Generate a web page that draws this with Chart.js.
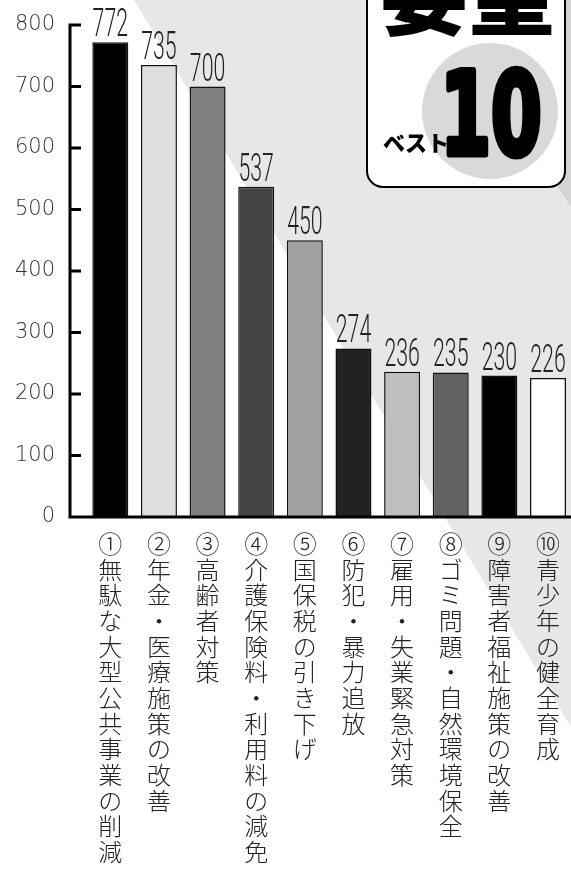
<!DOCTYPE html>
<html lang="ja">
<head>
<meta charset="utf-8">
<script src="https://cdn.jsdelivr.net/npm/chart.js@4"></script>
<style>
  html, body { margin: 0; padding: 0; background: #fff; overflow: hidden; }
  #wrap { width: 574px; height: 875px; }
</style>
</head>
<body>
<div id="wrap"><canvas id="chart"></canvas></div>
<script>
const categories = [
  "①無駄な大型公共事業の削減",
  "②年金・医療施策の改善",
  "③高齢者対策",
  "④介護保険料・利用料の減免",
  "⑤国保税の引き下げ",
  "⑥防犯・暴力追放",
  "⑦雇用・失業緊急対策",
  "⑧ゴミ問題・自然環境保全",
  "⑨障害者福祉施策の改善",
  "⑩青少年の健全育成"
];
const counts = [772, 735, 700, 537, 450, 274, 236, 235, 230, 226];
const barColors = ["#000000", "#dedede", "#808080", "#444444", "#a0a0a0",
                   "#222222", "#bebebe", "#626262", "#000000", "#ffffff"];
const badgeTitle = "要望";
const badgeSub = "ベスト";
const badgeNum = "10";
const yMax = 800;

// background stripe + the "要望 ベスト10" badge
const backdrop = {
  id: "backdrop",
  beforeDraw(chart) {
    const ctx = chart.ctx, w = chart.width;
    ctx.save();
    ctx.fillStyle = "#fff";
    ctx.fillRect(0, 0, w, chart.height);

    ctx.fillStyle = "#e6e7e9";
    ctx.beginPath();
    ctx.moveTo(134, 0);
    ctx.lineTo(w, 0);
    ctx.lineTo(w, (w - 134) / 0.6014);
    ctx.closePath();
    ctx.fill();

    ctx.fillStyle = "#d3d4d6";
    ctx.beginPath();
    ctx.moveTo(433, 0);
    ctx.lineTo(w, 0);
    ctx.lineTo(w, (w - 433) / 0.667);
    ctx.closePath();
    ctx.fill();

    // badge box
    const bx = 367, by = -30, bw = 198, bh = 217, r = 16;
    ctx.beginPath();
    ctx.moveTo(bx + r, by);
    ctx.arcTo(bx + bw, by, bx + bw, by + bh, r);
    ctx.arcTo(bx + bw, by + bh, bx, by + bh, r);
    ctx.arcTo(bx, by + bh, bx, by, r);
    ctx.arcTo(bx, by, bx + bw, by, r);
    ctx.closePath();
    ctx.fillStyle = "#fff";
    ctx.fill();
    ctx.lineWidth = 2;
    ctx.strokeStyle = "#000";
    ctx.stroke();

    ctx.save();
    ctx.clip();
    ctx.fillStyle = "#000";
    ctx.textAlign = "center";
    ctx.textBaseline = "alphabetic";
    ctx.font = "900 88px 'Noto Sans CJK JP'";
    ctx.fillText(badgeTitle, 468, 27);

    ctx.fillStyle = "#d9d9d9";
    ctx.beginPath();
    ctx.arc(490, 111, 68, 0, Math.PI * 2);
    ctx.fill();

    ctx.fillStyle = "#000";
    ctx.strokeStyle = "#000";
    ctx.save();
    ctx.translate(491, 154);
    ctx.scale(0.64, 1);
    ctx.font = "bold 114px 'DejaVu Sans'";
    ctx.lineWidth = 7;
    ctx.lineJoin = "round";
    ctx.strokeText(badgeNum, 0, 0);
    ctx.fillText(badgeNum, 0, 0);
    ctx.restore();

    ctx.textAlign = "left";
    ctx.font = "900 22px 'Noto Sans CJK JP'";
    ctx.fillText(badgeSub, 383, 151);
    ctx.restore();
    ctx.restore();
  }
};

// axis line with inward ticks, baseline and the narrow value labels
const axisAndValues = {
  id: "axisAndValues",
  afterDatasetsDraw(chart) {
    const ctx = chart.ctx, y = chart.scales.y;
    const x0 = chart.chartArea.left - 16;
    const yTop = y.getPixelForValue(yMax), yZero = y.getPixelForValue(0);
    ctx.save();
    ctx.strokeStyle = "#000";
    ctx.lineWidth = 3;
    ctx.beginPath();
    ctx.moveTo(x0, yTop - 1.5);
    ctx.lineTo(x0, yZero);
    y.ticks.forEach(t => {
      if (t.value === 0) return;
      const py = y.getPixelForValue(t.value);
      ctx.moveTo(x0, py);
      ctx.lineTo(x0 + 11, py);
    });
    ctx.moveTo(x0 - 1.5, yZero);
    ctx.lineTo(chart.width, yZero);
    ctx.stroke();

    ctx.fillStyle = "#222";
    ctx.textAlign = "center";
    ctx.textBaseline = "alphabetic";
    chart.getDatasetMeta(0).data.forEach((bar, i) => {
      ctx.save();
      ctx.translate(bar.x, bar.y - 6);
      ctx.scale(0.56, 1);
      ctx.font = "300 38px Roboto";
      ctx.fillText(String(counts[i]), 0, 0);
      ctx.restore();
    });
    ctx.restore();
  }
};

new Chart(document.getElementById("chart"), {
  type: "bar",
  data: {
    labels: categories,
    datasets: [{
      data: counts,
      backgroundColor: barColors,
      borderColor: "#111",
      borderWidth: 1.5,
      barPercentage: 0.74,
      categoryPercentage: 1
    }]
  },
  options: {
    responsive: true,
    maintainAspectRatio: false,
    animation: false,
    layout: { padding: { top: 25, left: 0, right: 0, bottom: 0 } },
    plugins: { legend: { display: false }, tooltip: { enabled: false } },
    scales: {
      x: {
        grid: { display: false, drawTicks: false },
        border: { display: false },
        afterFit: s => { s.height = 358; },
        ticks: {
          autoSkip: false,
          maxRotation: 0,
          minRotation: 0,
          padding: 14,
          color: "#222",
          font: { family: "'Noto Sans CJK JP'", size: 24, weight: 300, lineHeight: 1.07 },
          callback: (v, i) => Array.from(categories[i])
        }
      },
      y: {
        min: 0,
        max: yMax,
        grid: { display: false, drawTicks: false },
        border: { display: false },
        afterFit: s => { s.width = 86; s.paddingTop = 0; s.paddingBottom = 0; },
        ticks: {
          stepSize: 100,
          padding: 31,
          color: "#333",
          font: { family: "'DejaVu Sans'", size: 21, weight: 200 }
        }
      }
    }
  },
  plugins: [backdrop, axisAndValues]
});
</script>
</body>
</html>
